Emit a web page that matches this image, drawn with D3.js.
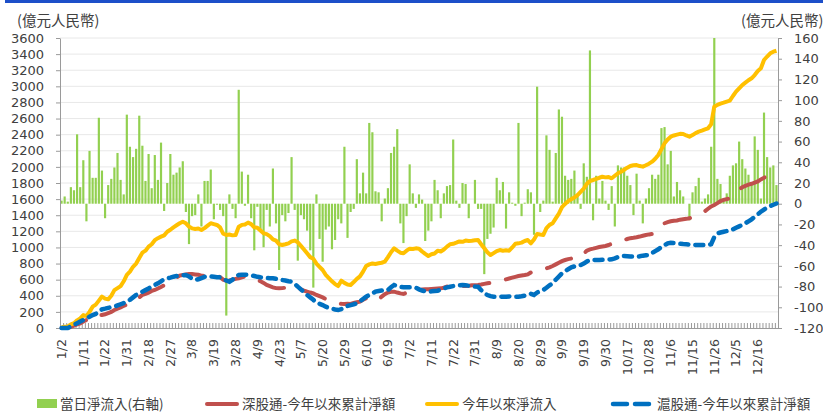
<!DOCTYPE html>
<html>
<head>
<meta charset="utf-8">
<script src="https://cdn.jsdelivr.net/npm/d3@7"></script>
<style>
  body { margin: 0; background: #fff; }
  svg { display: block; }
  .axis text { font-family: "DejaVu Sans", sans-serif; font-size: 13px; fill: #404040; }
  .axis path, .axis line { stroke: #9a9a9a; }
  .cjk { font-family: "Noto Sans CJK TC", sans-serif; fill: #404040; }
</style>
</head>
<body>
<div id="chart"></div>
<script>
// x-axis labels, one every 7 trading days
const tickLabels = ["1/2","1/11","1/22","1/31","2/18","2/27","3/8","3/19","3/28","4/9","4/23","5/7","5/20","5/29","6/10","6/19","7/2","7/11","7/22","7/31","8/9","8/20","8/29","9/9","9/19","9/30","10/17","10/28","11/6","11/15","11/26","12/5","12/16"];

// 當日淨流入 (right axis)
const dailyFlow = [
  3,7,2,16,13,67,16,42,-17,51,25,25,83,32,-14,18,24,35,49,23,
  9,86,55,45,53,85,56,22,48,15,47,23,59,-7,20,48,28,30,35,41,
  -8,-39,-12,-11,9,-22,22,22,33,-15,-1,-6,-12,-108,9,-5,-14,110,31,-2,
  28,-14,-45,-3,-25,-42,-6,-22,34,-19,-64,-11,-17,-9,45,-6,-55,-11,-15,-26,
  -45,-81,9,-34,-56,-25,-22,-44,-35,-15,-19,55,-33,-8,-5,43,10,30,10,78,
  69,12,11,-17,5,15,49,55,72,-19,-38,-12,38,10,-4,9,4,-36,-26,-17,
  23,13,-14,10,17,18,62,3,-4,20,19,-14,0,23,-5,-5,-68,-34,-29,-23,
  25,13,21,-24,11,1,-2,78,-12,1,14,11,-30,113,-8,3,66,52,2,49,
  91,84,27,23,24,32,9,-5,39,26,148,-16,27,5,22,3,-6,17,-22,37,
  35,35,27,18,-11,29,3,-19,5,15,28,24,28,73,74,38,51,7,21,13,
  7,0,-16,11,17,25,2,5,9,55,160,24,19,3,10,27,37,39,60,43,
  34,28,21,65,52,5,88,45,35,37,18
];

// 深股通-今年以來累計淨額 (left axis)
const szCumulative = [
  0,2,5,15,30,45,58,80,100,141,150,155,160,161,170,185,200,223,240,255,
  275,290,298,320,350,380,410,425,440,460,472,490,510,530,555,575,600,625,650,658,
  665,670,670,665,660,650,645,650,655,658,655,630,600,587,590,600,610,617,630,640,
  645,635,617,600,580,560,534,520,505,495,492,495,500,510,513,505,492,480,465,451,
  440,430,410,395,380,360,345,330,315,306,300,298,300,298,310,320,327,350,370,389,
  380,365,354,390,420,440,450,451,440,430,422,440,460,472,475,470,478,480,480,485,
  488,490,492,500,515,525,534,530,525,522,521,525,530,532,534,540,548,555,560,563,
  575,585,595,604,615,625,635,645,652,658,665,690,705,712,712,725,740,753,770,790,
  810,830,844,855,862,868,872,877,920,960,977,985,995,1005,1012,1018,1030,1045,1058,1071,
  1080,1092,1105,1115,1120,1126,1135,1145,1155,1162,1167,1200,1240,1279,1300,1315,1325,1332,1335,1345,
  1350,1355,1362,1380,1400,1415,1431,1450,1480,1510,1527,1550,1575,1590,1600,1610,1650,1690,1720,1747,
  1765,1780,1790,1804,1820,1845,1865,1887,1900,1908,1912
];

// 今年以來淨流入 (left axis)
const totalCumulative = [
  10,15,20,45,60,95,120,160,150,200,265,290,340,390,365,356,400,470,495,520,
  580,660,700,760,800,870,935,960,1010,1040,1090,1115,1134,1150,1195,1220,1250,1275,1300,1320,
  1300,1260,1237,1230,1235,1217,1240,1270,1300,1290,1279,1250,1170,1155,1160,1150,1155,1258,1280,1285,
  1308,1290,1250,1245,1210,1175,1165,1140,1100,1085,1040,1030,1040,1051,1075,1085,1065,1020,975,927,
  880,860,800,760,720,660,620,580,545,521,587,560,540,534,570,610,640,700,770,790,
  800,795,803,810,823,880,940,989,960,935,927,960,985,980,989,985,950,920,894,915,
  925,960,950,975,1010,1040,1045,1059,1075,1070,1085,1080,1084,1090,1092,1040,989,940,906,930,
  955,968,960,965,960,1000,1045,1051,1060,1080,1092,1051,1100,1167,1160,1155,1240,1280,1300,1360,
  1420,1500,1540,1575,1600,1620,1650,1690,1730,1790,1825,1837,1850,1865,1878,1870,1875,1858,1890,1920,
  1940,1965,1990,2011,2020,2023,2010,2003,2020,2040,2065,2100,2147,2220,2292,2340,2375,2390,2400,2410,
  2408,2390,2375,2395,2420,2437,2450,2465,2479,2530,2747,2770,2785,2797,2810,2822,2880,2934,2975,3016,
  3045,3075,3100,3140,3190,3224,3327,3370,3410,3430,3442
];

// 滬股通-今年以來累計淨額 (left axis)
const shCumulative = [
  0,0,0,20,40,60,80,99,115,140,161,175,200,232,240,250,258,265,280,295,
  310,327,350,380,410,430,451,470,490,515,534,555,580,604,615,625,637,645,650,655,
  658,640,610,596,605,620,635,645,640,635,630,629,610,590,575,600,640,658,662,660,
  662,655,645,635,629,625,620,618,617,610,600,595,590,580,575,550,513,480,445,410,
  380,350,314,300,285,265,250,240,230,223,235,255,273,285,295,306,330,360,389,410,
  430,451,460,465,470,472,505,534,520,510,505,505,505,505,500,480,465,455,451,455,
  460,463,475,490,505,513,520,525,530,534,530,525,520,515,513,470,430,410,395,389,
  389,390,388,389,392,390,389,389,395,402,410,425,410,440,460,472,500,530,555,600,
  640,679,705,730,753,765,775,782,800,825,844,845,843,844,846,848,850,852,865,880,
  890,894,892,888,886,885,890,898,904,906,930,955,977,1005,1030,1050,1059,1055,1050,1045,
  1042,1040,1035,1032,1030,1030,1030,1028,1030,1040,1130,1175,1185,1195,1203,1209,1225,1245,1262,1279,
  1300,1325,1349,1380,1410,1444,1470,1495,1515,1530,1546
];

const leftTicks = d3.range(0, 3601, 200);
const rightTicks = d3.range(-120, 161, 20);

const width = 823;
const height = 412;
const plot = { left: 60, right: 778, top: 38, bottom: 328 };
const days = d3.range(dailyFlow.length);

const svg = d3.select("#chart").append("svg").attr("width", width).attr("height", height);

// thin blue band on top
svg.append("rect").attr("x", 5).attr("y", 0).attr("width", 818).attr("height", 3).attr("fill", "#1d4fc9");

const x = d3.scaleBand().domain(days).range([plot.left, plot.right]).paddingInner(0.3).paddingOuter(0.15);
const xEdge = d3.scaleLinear().domain([0, days.length]).range([plot.left, plot.right]);
const yL = d3.scaleLinear().domain([0, 3600]).range([plot.bottom, plot.top]);
const yR = d3.scaleLinear().domain([-120, 160]).range([plot.bottom, plot.top]);
const cx = (i) => x(i) + x.bandwidth() / 2;

// gridlines
svg.append("g")
  .selectAll("line")
  .data(leftTicks.slice(1))
  .enter()
  .append("line")
  .attr("x1", plot.left)
  .attr("x2", plot.right)
  .attr("y1", (d) => yL(d))
  .attr("y2", (d) => yL(d))
  .attr("stroke", "#e8e8e8")
  .attr("stroke-width", 1);

// bars
svg.append("g")
  .selectAll("rect")
  .data(dailyFlow)
  .enter()
  .append("rect")
  .attr("x", (d, i) => x(i))
  .attr("width", x.bandwidth())
  .attr("y", (d) => yR(Math.max(0, d)))
  .attr("height", (d) => Math.abs(yR(d) - yR(0)))
  .attr("fill", "#92d050");

// axes (plain hyphen for negatives, no thousands separator)
const plain = (d) => String(d);
svg.append("g").attr("class", "axis").attr("transform", `translate(${plot.left},0)`)
  .call(d3.axisLeft(yL).tickValues(leftTicks).tickFormat(plain).tickSize(4).tickPadding(12).tickSizeOuter(0));
svg.append("g").attr("class", "axis").attr("transform", `translate(${plot.right},0)`)
  .call(d3.axisRight(yR).tickValues(rightTicks).tickFormat(plain).tickSize(4).tickPadding(12).tickSizeOuter(0));
svg.append("g").attr("class", "axis").attr("transform", `translate(0,${plot.bottom})`)
  .call(d3.axisBottom(xEdge).tickValues(d3.range(days.length + 1)).tickSize(-5).tickFormat("").tickSizeOuter(0));

// rotated date labels
svg.append("g")
  .selectAll("text")
  .data(tickLabels)
  .enter()
  .append("text")
  .attr("transform", (d, k) => `translate(${cx(k * 7)},339) rotate(-90)`)
  .attr("dy", "0.35em")
  .attr("text-anchor", "end")
  .style("font-family", "DejaVu Sans, sans-serif")
  .style("font-size", "12.5px")
  .attr("fill", "#404040")
  .text((d) => d);

// lines
const lineL = d3.line().x((d, i) => cx(i)).y((d) => yL(d));

svg.append("path").datum(szCumulative)
  .attr("d", lineL).attr("fill", "none")
  .attr("stroke", "#c0504d").attr("stroke-width", 4)
  .attr("stroke-linecap", "round").attr("stroke-dasharray", "26 17");

svg.append("path").datum(totalCumulative)
  .attr("d", lineL).attr("fill", "none")
  .attr("stroke", "#ffc000").attr("stroke-width", 4)
  .attr("stroke-linejoin", "round");

svg.append("path").datum(shCumulative)
  .attr("d", lineL).attr("fill", "none")
  .attr("stroke", "#0070c0").attr("stroke-width", 4.5)
  .attr("stroke-linecap", "round").attr("stroke-dasharray", "8 7");

// unit labels
svg.append("text").attr("class", "cjk").attr("x", 17).attr("y", 26).style("font-size", "14.5px").text("(億元人民幣)");
svg.append("text").attr("class", "cjk").attr("x", 741).attr("y", 26).style("font-size", "14.5px").text("(億元人民幣)");

// legend
const legend = svg.append("g").attr("transform", "translate(0,404)");
const legendItems = [
  { label: "當日淨流入(右軸)", type: "box", color: "#92d050", x: 37 },
  { label: "深股通-今年以來累計淨額", type: "line", color: "#c0504d", x: 205 },
  { label: "今年以來淨流入", type: "line", color: "#ffc000", x: 425 },
  { label: "滬股通-今年以來累計淨額", type: "dash", color: "#0070c0", x: 611 }
];
legendItems.forEach((item) => {
  if (item.type === "box") {
    legend.append("rect").attr("x", item.x).attr("y", -5).attr("width", 20).attr("height", 9).attr("fill", item.color);
  } else if (item.type === "line") {
    legend.append("line").attr("x1", item.x + 2).attr("x2", item.x + 32).attr("y1", 0).attr("y2", 0)
      .attr("stroke", item.color).attr("stroke-width", 4).attr("stroke-linecap", "round");
  } else {
    legend.append("line").attr("x1", item.x + 2).attr("x2", item.x + 42).attr("y1", 0).attr("y2", 0)
      .attr("stroke", item.color).attr("stroke-width", 4.5).attr("stroke-linecap", "round").attr("stroke-dasharray", "14 8");
  }
  legend.append("text").attr("class", "cjk")
    .attr("x", item.x + (item.type === "dash" ? 46 : item.type === "line" ? 37 : 23))
    .attr("y", 0).attr("dy", "0.35em").style("font-size", "13.5px").text(item.label);
});
</script>
</body>
</html>
